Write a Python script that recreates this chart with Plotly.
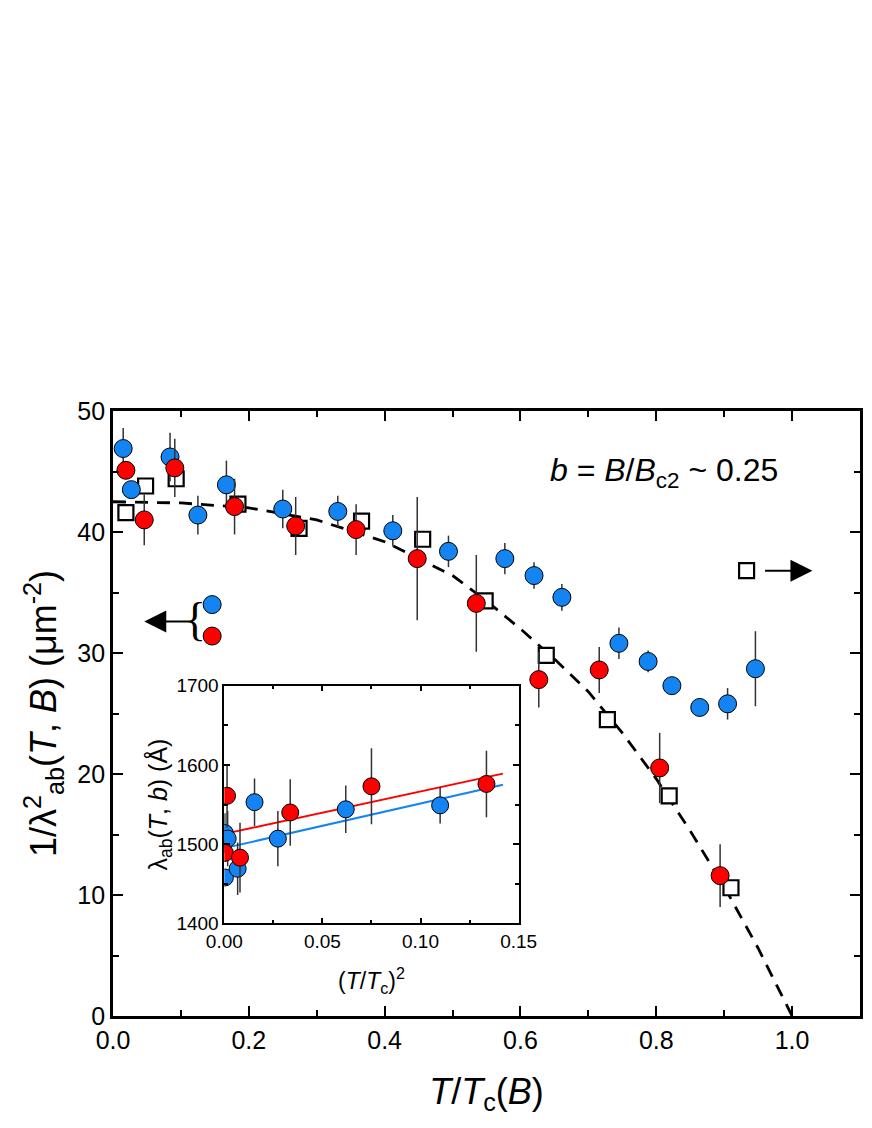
import plotly.graph_objects as go

FONT = "Arial, Liberation Sans, sans-serif"
BLUE = "#1484f2"
RED = "#ff0000"
ERR = "#333333"

# main panel: 1/lambda^2 vs T/Tc(B)
blue_x = [0.015, 0.027, 0.084, 0.125, 0.167, 0.250, 0.331, 0.412, 0.494, 0.577,
          0.620, 0.661, 0.745, 0.788, 0.823, 0.864, 0.905, 0.946]
blue_y = [46.9, 43.5, 46.2, 41.4, 43.9, 41.9, 41.7, 40.1, 38.4, 37.8,
          36.4, 34.6, 30.8, 29.3, 27.3, 25.5, 25.8, 28.7]
blue_e = [1.7, 0.0, 2.0, 1.6, 2.0, 1.6, 1.3, 1.3, 1.3, 1.3,
          1.1, 1.1, 1.3, 0.9, 0.0, 0.0, 1.3, 3.1]

red_x = [0.019, 0.046, 0.091, 0.179, 0.269, 0.358, 0.448, 0.535, 0.627, 0.716, 0.805, 0.894]
red_y = [45.1, 41.0, 45.3, 42.1, 40.5, 40.2, 37.8, 34.1, 27.8, 28.6, 20.5, 11.6]
red_e = [0.0, 2.1, 2.4, 2.3, 2.4, 2.1, 5.1, 4.0, 2.3, 1.9, 2.9, 2.6]

sq_x = [0.019, 0.048, 0.093, 0.184, 0.274, 0.366, 0.456, 0.548, 0.638, 0.728, 0.819, 0.910]
sq_y = [41.6, 43.8, 44.4, 42.3, 40.3, 40.9, 39.4, 34.3, 29.8, 24.5, 18.2, 10.6]

fit_x = [0.0, 0.1, 0.2, 0.3, 0.4, 0.5, 0.55, 0.6, 0.65, 0.7, 0.75, 0.8, 0.85, 0.9, 0.95, 1.0]
fit_y = [42.5, 42.4, 42.0, 41.0, 39.2, 36.4, 34.3, 32.0, 29.5, 26.8, 23.4, 19.6, 15.3, 10.7, 5.6, 0.0]

# inset: lambda vs (T/Tc)^2
in_blue_x = [0.0003, 0.0003, 0.0017, 0.0068, 0.0154, 0.0273, 0.0619, 0.110]
in_blue_y = [1458, 1514, 1507, 1469, 1553, 1507, 1544, 1549]
in_blue_e = [0, 25, 35, 33, 30, 35, 30, 23]

in_red_x = [0.0014, 0.0003, 0.008, 0.0336, 0.075, 0.1336]
in_red_y = [1561, 1489, 1483, 1540, 1573, 1576]
in_red_e = [40, 0, 44, 42, 48, 42]

in_line_x = [0.0, 0.142]
in_red_line = [1513, 1589]
in_blue_line = [1495, 1575]

fig = go.Figure()

fig.add_trace(go.Scatter(
    x=fit_x, y=fit_y, mode='lines',
    line=dict(color='black', width=2.8, dash='13px,9px'),
    showlegend=False))

fig.add_trace(go.Scatter(
    x=sq_x, y=sq_y, mode='markers',
    marker=dict(symbol='square', size=15, color='white',
                line=dict(color='black', width=2.2)),
    showlegend=False))

fig.add_trace(go.Scatter(
    x=blue_x, y=blue_y, mode='markers',
    error_y=dict(type='data', array=blue_e, color=ERR, thickness=1.5, width=0),
    marker=dict(size=18, color=BLUE, line=dict(color='black', width=1)),
    showlegend=False))

fig.add_trace(go.Scatter(
    x=red_x, y=red_y, mode='markers',
    error_y=dict(type='data', array=red_e, color=ERR, thickness=1.5, width=0),
    marker=dict(size=18, color=RED, line=dict(color='black', width=1)),
    showlegend=False))

# legend-like markers
fig.add_trace(go.Scatter(
    x=[0.146, 0.146], y=[34.0, 31.4], mode='markers',
    marker=dict(size=18, color=[BLUE, RED], line=dict(color='black', width=1)),
    showlegend=False))
fig.add_trace(go.Scatter(
    x=[0.933], y=[36.8], mode='markers',
    marker=dict(symbol='square', size=15, color='white',
                line=dict(color='black', width=2.2)),
    showlegend=False))

# inset traces
fig.add_trace(go.Scatter(
    x=in_line_x, y=in_red_line, mode='lines', xaxis='x2', yaxis='y2',
    line=dict(color=RED, width=2), showlegend=False))
fig.add_trace(go.Scatter(
    x=in_line_x, y=in_blue_line, mode='lines', xaxis='x2', yaxis='y2',
    line=dict(color=BLUE, width=2), showlegend=False))
fig.add_trace(go.Scatter(
    x=in_blue_x, y=in_blue_y, mode='markers', xaxis='x2', yaxis='y2',
    error_y=dict(type='data', array=in_blue_e, color=ERR, thickness=1.5, width=0),
    marker=dict(size=17, color=BLUE, line=dict(color='black', width=1)),
    showlegend=False))
fig.add_trace(go.Scatter(
    x=in_red_x, y=in_red_y, mode='markers', xaxis='x2', yaxis='y2',
    error_y=dict(type='data', array=in_red_e, color=ERR, thickness=1.5, width=0),
    marker=dict(size=17, color=RED, line=dict(color='black', width=1)),
    showlegend=False))

main_axis = dict(
    showline=True, linecolor='black', linewidth=2.7, mirror='allticks',
    ticks='inside', ticklen=10, tickwidth=2, tickcolor='black',
    showgrid=False, zeroline=False,
    tickfont=dict(family=FONT, size=25, color='black'),
)
inset_axis = dict(
    showline=True, linecolor='black', linewidth=1.6, mirror='allticks',
    ticks='inside', ticklen=6, tickwidth=1.5, tickcolor='black',
    showgrid=False, zeroline=False,
    tickfont=dict(family=FONT, size=19, color='black'),
)

# page body adds an 8px offset and the plot ends up 856px wide, so margins compensate
fig.update_layout(
    width=872, height=1128,
    margin=dict(l=105, r=2, t=403, b=120),
    plot_bgcolor='white', paper_bgcolor='white',
    font=dict(family=FONT, color='black'),
    xaxis=dict(
        main_axis, range=[0, 1.1], dtick=0.2, tickformat='.1f',
        minor=dict(dtick=0.1, ticks='inside', ticklen=6, tickwidth=2, tickcolor='black'),
        title=dict(text='<i>T</i>/<i>T</i><sub>c</sub>(<i>B</i>)',
                   font=dict(family=FONT, size=36), standoff=26),
    ),
    yaxis=dict(
        main_axis, range=[0, 50], dtick=10,
        minor=dict(dtick=5, ticks='inside', ticklen=6, tickwidth=2, tickcolor='black'),
        title=dict(text='1/λ<sup>2</sup><sub>ab</sub>(<i>T</i>, <i>B</i>) (μm<sup>-2</sup>)',
                   font=dict(family=FONT, size=36), standoff=10),
    ),
    xaxis2=dict(
        inset_axis, domain=[0.149, 0.543], anchor='y2', range=[0, 0.15],
        dtick=0.05, tickformat='.2f',
        minor=dict(dtick=0.025, ticks='inside', ticklen=4, tickwidth=1.5, tickcolor='black'),
        title=dict(text='(<i>T</i>/<i>T</i><sub>c</sub>)<sup>2</sup>',
                   font=dict(family=FONT, size=23), standoff=22),
    ),
    yaxis2=dict(
        inset_axis, domain=[0.153, 0.546], anchor='x2', range=[1400, 1700],
        dtick=100,
        minor=dict(dtick=50, ticks='inside', ticklen=4, tickwidth=1.5, tickcolor='black'),
        title=dict(text='λ<sub>ab</sub>(<i>T</i>, <i>b</i>) (Å)',
                   font=dict(family=FONT, size=25), standoff=2),
    ),
    annotations=[
        dict(x=0.737, y=0.899, xref='paper', yref='paper', showarrow=False,
             xanchor='center', yanchor='middle',
             text='<i>b</i> = <i>B</i>/<i>B</i><sub>c2</sub> ~ 0.25',
             font=dict(family=FONT, size=32)),
        dict(x=0.046, y=32.6, xref='x', yref='y', ax=0.118, ay=32.6,
             axref='x', ayref='y', text='', showarrow=True,
             arrowhead=2, arrowsize=2.2, arrowwidth=2, arrowcolor='black'),
        dict(x=0.121, y=32.8, xref='x', yref='y', showarrow=False,
             text='{', font=dict(family='Liberation Serif, serif', size=46)),
        dict(x=1.03, y=36.8, xref='x', yref='y', ax=0.958, ay=36.8,
             axref='x', ayref='y', text='', showarrow=True,
             arrowhead=2, arrowsize=2.2, arrowwidth=2, arrowcolor='black'),
    ],
)

fig.write_html("out.html")
